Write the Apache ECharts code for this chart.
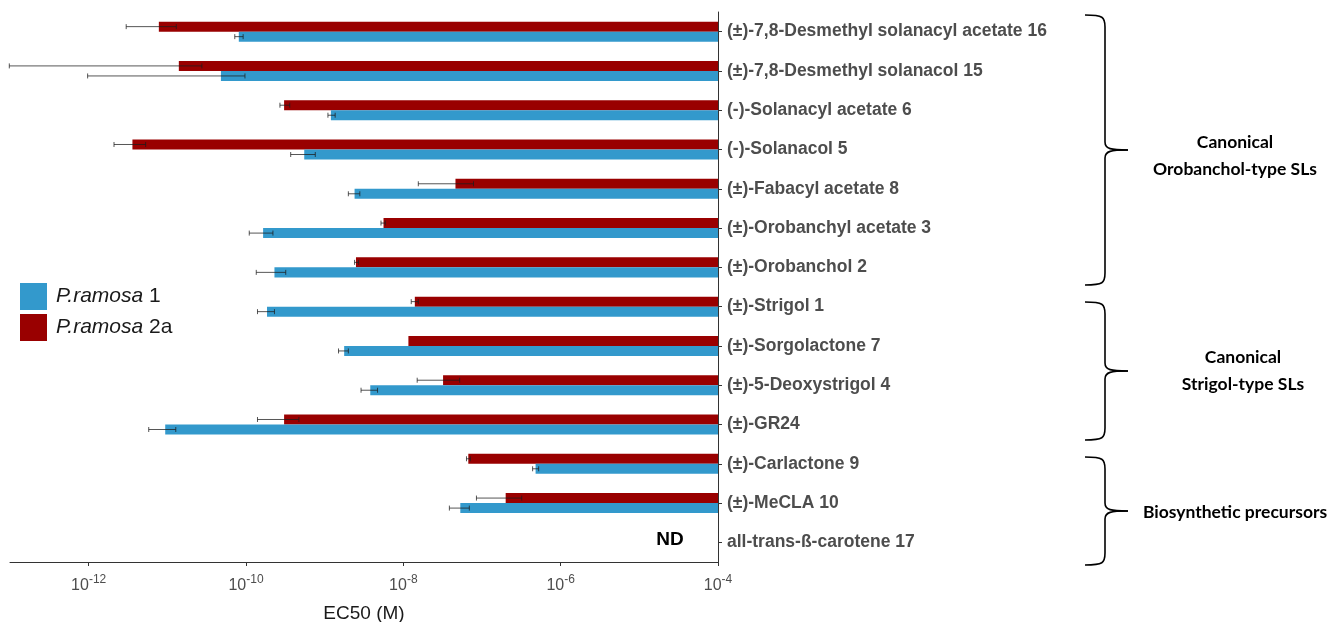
<!DOCTYPE html>
<html>
<head>
<meta charset="utf-8">
<script src="https://cdn.jsdelivr.net/npm/echarts@6/dist/echarts.min.js"></script>
<style>
  html, body { margin: 0; padding: 0; background: #fff; }
  #chart { width: 1343px; height: 622px; }
</style>
</head>
<body>
<div id="chart"></div>
<script>
// Compounds, top to bottom
const compounds = [
  '(±)-7,8-Desmethyl solanacyl acetate 16',
  '(±)-7,8-Desmethyl solanacol 15',
  '(-)-Solanacyl acetate 6',
  '(-)-Solanacol 5',
  '(±)-Fabacyl acetate 8',
  '(±)-Orobanchyl acetate 3',
  '(±)-Orobanchol 2',
  '(±)-Strigol 1',
  '(±)-Sorgolactone 7',
  '(±)-5-Deoxystrigol 4',
  '(±)-GR24',
  '(±)-Carlactone 9',
  '(±)-MeCLA 10',
  'all-trans-ß-carotene 17'
];

// EC50 (M) for P. ramosa 1, with lower / upper error bounds (null = not determined)
const ramosa1 = [8.1e-11, 4.8e-11, 1.2e-9, 5.5e-10, 2.4e-9, 1.65e-10, 2.3e-10, 1.85e-10, 1.77e-9, 3.8e-9, 9.4e-12, 4.8e-7, 5.3e-8, null];
const ramosa1Low = [7.2e-11, 9.7e-13, 1.1e-9, 3.7e-10, 2.0e-9, 1.1e-10, 1.35e-10, 1.4e-10, 1.5e-9, 2.9e-9, 5.8e-12, 4.4e-7, 3.85e-8, null];
const ramosa1High = [9.2e-11, 9.7e-11, 1.36e-9, 7.6e-10, 2.8e-9, 2.2e-10, 3.2e-10, 2.3e-10, 2.0e-9, 4.7e-9, 1.28e-11, 5.25e-7, 6.9e-8, null];

// EC50 (M) for P. ramosa 2a
const ramosa2a = [7.8e-12, 1.4e-11, 3.05e-10, 3.6e-12, 4.6e-8, 5.6e-9, 2.5e-9, 1.4e-8, 1.16e-8, 3.2e-8, 3.05e-10, 6.7e-8, 2.0e-7, null];
const ramosa2aLow = [3.0e-12, 9.8e-14, 2.7e-10, 2.1e-12, 1.55e-8, 5.2e-9, 2.4e-9, 1.26e-8, null, 1.5e-8, 1.4e-10, 6.35e-8, 8.5e-8, null];
const ramosa2aHigh = [1.3e-11, 2.75e-11, 3.6e-10, 5.3e-12, 7.8e-8, 5.9e-9, 2.7e-9, 1.55e-8, null, 5.2e-8, 4.7e-10, 7.1e-8, 3.2e-7, null];

// Decade ticks shown on the concentration axis (log10 of M)
const decadeTicks = [-12, -10, -8, -6, -4];

// Compound groups (first and last row index)
const groups = [
  { name: 'Canonical\nOrobanchol-type SLs', from: 0, to: 6 },
  { name: 'Canonical\nStrigol-type SLs', from: 7, to: 10 },
  { name: 'Biosynthetic precursors', from: 11, to: 13 }
];

const BLUE = '#3399cc';
const RED = '#990000';
const SANS = "'Liberation Sans', Arial, sans-serif";
const AXIS_MIN = -13, AXIS_MAX = -4;

const lg = v => (v == null ? NaN : Math.log10(v));

function seriesData(vals, lows, highs) {
  return compounds.map((c, i) => [lg(vals[i]), i, lg(lows[i]), lg(highs[i])]);
}

// Bars grow from the right edge (10^-4 M) leftwards to the EC50 value
function makeRender(color, upper) {
  return function (params, api) {
    const v = api.value(0);
    const cat = api.value(1);
    if (isNaN(v)) return null;
    const band = api.size([0, 1])[1];
    const h = band * 0.255;
    const left = api.coord([v, cat]);
    const right = api.coord([AXIS_MAX, cat]);
    const y0 = upper ? left[1] - h : left[1];
    const children = [{
      type: 'rect',
      shape: { x: left[0], y: y0, width: right[0] - left[0], height: h },
      style: { fill: color }
    }];
    const lo = api.value(2), hi = api.value(3);
    if (!isNaN(lo) && !isNaN(hi)) {
      const yc = y0 + h / 2;
      const pl = api.coord([lo, cat])[0];
      const ph = api.coord([hi, cat])[0];
      const st = { stroke: 'rgba(30,30,30,0.75)', lineWidth: 1 };
      children.push(
        { type: 'line', shape: { x1: pl, y1: yc, x2: ph, y2: yc }, style: st },
        { type: 'line', shape: { x1: pl, y1: yc - 2.5, x2: pl, y2: yc + 2.5 }, style: st },
        { type: 'line', shape: { x1: ph, y1: yc - 2.5, x2: ph, y2: yc + 2.5 }, style: st }
      );
    }
    return { type: 'group', children: children };
  };
}

const chart = echarts.init(document.getElementById('chart'));

chart.setOption({
  animation: false,
  backgroundColor: '#fff',
  grid: { left: 10, right: 625, top: 12, bottom: 60, containLabel: false, outerBoundsMode: 'none' },
  legend: {
    orient: 'vertical',
    left: 15,
    top: 278,
    itemWidth: 27,
    itemHeight: 27,
    itemGap: 4,
    icon: 'rect',
    data: ['P.ramosa 1', 'P.ramosa 2a'],
    formatter: name => '{i|P.ramosa}' + name.replace('P.ramosa', ''),
    textStyle: {
      fontFamily: SANS,
      fontSize: 21,
      color: '#1a1a1a',
      padding: [0, 0, 0, 4],
      rich: { i: { fontStyle: 'italic', fontSize: 21, color: '#1a1a1a', fontFamily: SANS } }
    }
  },
  xAxis: {
    type: 'value',
    min: AXIS_MIN,
    max: AXIS_MAX,
    name: 'EC50 (M)',
    nameLocation: 'middle',
    nameGap: 42,
    nameTextStyle: { fontFamily: SANS, fontSize: 19, color: '#1a1a1a' },
    splitLine: { show: false },
    axisLine: { show: true, lineStyle: { color: '#333', width: 1 } },
    axisTick: { show: true, length: 4, customValues: decadeTicks, lineStyle: { color: '#333' } },
    axisLabel: {
      margin: 10,
      customValues: decadeTicks,
      formatter: v => '{b|10}{s|' + v + '}',
      rich: {
        b: { fontFamily: SANS, fontSize: 16, color: '#4d4d4d', padding: [6, 0, 0, 0] },
        s: { fontFamily: SANS, fontSize: 12, color: '#4d4d4d', padding: [0, 0, 6, 0] }
      }
    }
  },
  yAxis: {
    type: 'category',
    data: compounds,
    inverse: true,
    position: 'right',
    axisLine: { show: true, lineStyle: { color: '#333', width: 1 } },
    axisTick: { show: true, length: 4, alignWithLabel: true, lineStyle: { color: '#333' } },
    axisLabel: {
      margin: 9,
      fontFamily: SANS,
      fontWeight: 'bold',
      fontSize: 17.5,
      color: '#4d4d4d'
    },
    splitLine: { show: false }
  },
  series: [
    {
      name: 'P.ramosa 2a',
      type: 'custom',
      itemStyle: { color: RED },
      encode: { x: 0, y: 1 },
      renderItem: makeRender(RED, true),
      data: seriesData(ramosa2a, ramosa2aLow, ramosa2aHigh)
    },
    {
      name: 'P.ramosa 1',
      type: 'custom',
      itemStyle: { color: BLUE },
      encode: { x: 0, y: 1 },
      renderItem: makeRender(BLUE, false),
      data: seriesData(ramosa1, ramosa1Low, ramosa1High)
    }
  ]
});

// Annotations: "ND" for undetermined rows, and group braces with their titles
const graphics = [];
compounds.forEach((c, i) => {
  if (ramosa1[i] == null && ramosa2a[i] == null) {
    const p = chart.convertToPixel({ gridIndex: 0 }, [AXIS_MAX, i]);
    graphics.push({
      type: 'text',
      x: p[0] - 48, y: p[1] - 3,
      style: {
        text: 'ND', fontFamily: SANS, fontWeight: 'bold',
        fontSize: 19, fill: '#000', align: 'center', verticalAlign: 'middle'
      }
    });
  }
});

const braceBox = [[15, 285], [302, 440], [457, 565]];
const labelShift = [6, 0, 1];
const bx0 = 1085, bx1 = 1105, bTip = 1128;
groups.forEach((g, k) => {
  const top = braceBox[k][0], bot = braceBox[k][1], mid = (top + bot) / 2;
  const st = { stroke: '#000', lineWidth: 1.6, fill: null };
  graphics.push(
    { type: 'bezierCurve', shape: { x1: bx0, y1: top, cpx1: bx1 - 2, cpy1: top, cpx2: bx1, cpy2: top + 2, x2: bx1, y2: top + 12 }, style: st },
    { type: 'line', shape: { x1: bx1, y1: top + 12, x2: bx1, y2: mid - 8 }, style: st },
    { type: 'bezierCurve', shape: { x1: bx1, y1: mid - 8, cpx1: bx1, cpy1: mid - 1, cpx2: bx1 + 6, cpy2: mid, x2: bTip, y2: mid }, style: st },
    { type: 'bezierCurve', shape: { x1: bTip, y1: mid, cpx1: bx1 + 6, cpy1: mid, cpx2: bx1, cpy2: mid + 1, x2: bx1, y2: mid + 8 }, style: st },
    { type: 'line', shape: { x1: bx1, y1: mid + 8, x2: bx1, y2: bot - 12 }, style: st },
    { type: 'bezierCurve', shape: { x1: bx1, y1: bot - 12, cpx1: bx1, cpy1: bot - 2, cpx2: bx1 - 2, cpy2: bot, x2: bx0, y2: bot }, style: st },
    {
      type: 'text',
      x: k === 1 ? 1243 : 1235, y: mid + labelShift[k],
      style: {
        text: g.name, fontFamily: 'Lato, sans-serif', fontWeight: 'bold', fontSize: 17.5,
        lineHeight: 27, fill: '#000', align: 'center', verticalAlign: 'middle'
      }
    }
  );
});
chart.setOption({ graphic: graphics });
</script>
</body>
</html>
